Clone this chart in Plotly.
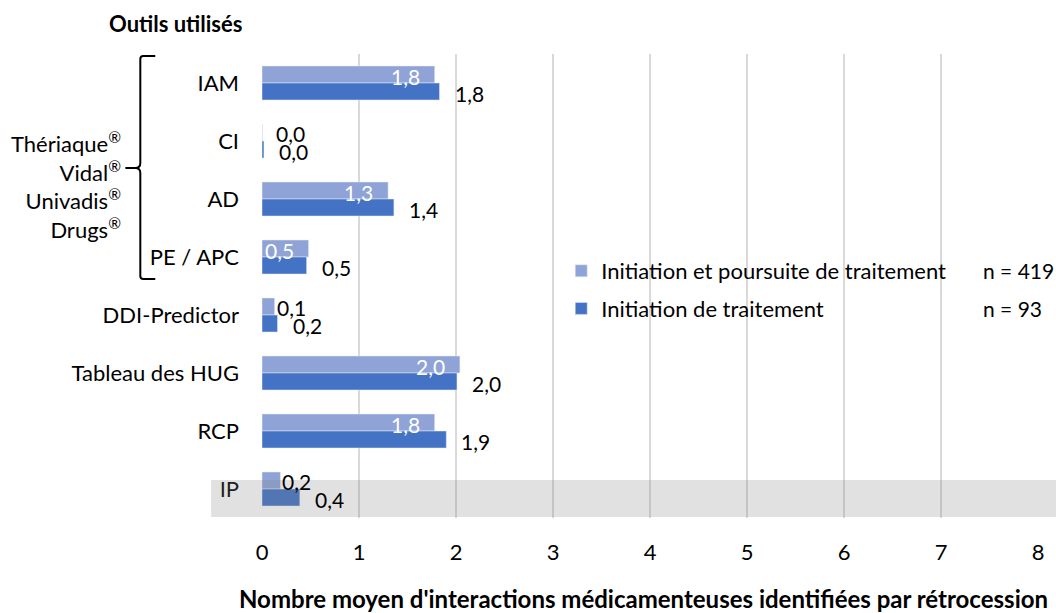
import plotly.graph_objects as go

# ---------------- data ----------------
categories = ["IAM", "CI", "AD", "PE / APC", "DDI-Predictor", "Tableau des HUG", "RCP", "IP"]
init_poursuite = [1.78, 0.004, 1.30, 0.48, 0.13, 2.04, 1.78, 0.19]
init_only = [1.83, 0.02, 1.36, 0.46, 0.16, 2.01, 1.90, 0.39]
series_names = ["Initiation et poursuite de traitement", "Initiation de traitement"]
series_n = ["n = 419", "n = 93"]
x_ticks = [0, 1, 2, 3, 4, 5, 6, 7, 8]
brands = ["Thériaque", "Vidal", "Univadis", "Drugs"]
y_title = "Outils utilisés"
x_title = "Nombre moyen d'interactions médicamenteuses identifiées par rétrocession"

# ---------------- style ----------------
W, H = 1056, 613
ML, MR, MT, MB = 262, 16, 54, 95
PW, PH = W - ML - MR, H - MT - MB
FONT = "Lato"
LIGHT = "#8FA3D6"
DARK = "#4472C4"
FS = 22
LFS = 21


def px(x):
    return (x - ML) / PW


def py(y):
    return (H - MB - y) / PH


def fmt(v):
    return f"{v:.1f}".replace(".", ",")


fig = go.Figure()
fig.add_trace(go.Bar(y=categories, x=init_poursuite, orientation="h", name=series_names[0],
                     marker=dict(color=LIGHT), legendgroup="a", hoverinfo="x+y"))
fig.add_trace(go.Bar(y=categories, x=init_only, orientation="h", name=series_names[1],
                     marker=dict(color=DARK), legendgroup="b", hoverinfo="x+y"))

ann = []
for c, v in zip(categories, init_poursuite):
    if v >= 0.4:
        ann.append(dict(x=v, y=c, xref="x", yref="y", text=fmt(v), showarrow=False,
                        xanchor="right", yanchor="middle", xshift=-13, yshift=7,
                        font=dict(family=FONT, size=LFS, color="white")))
    else:
        ann.append(dict(x=v, y=c, xref="x", yref="y", text=fmt(v), showarrow=False,
                        xanchor="left", yanchor="middle", xshift=0 if v > 0.05 else 12, yshift=7.5,
                        font=dict(family=FONT, size=LFS, color="black")))
for c, v in zip(categories, init_only):
    ann.append(dict(x=v, y=c, xref="x", yref="y", text=fmt(v), showarrow=False,
                    xanchor="left", yanchor="middle", xshift=13, yshift=-10,
                    font=dict(family=FONT, size=LFS, color="black")))

# n annotations next to legend
for i, t in enumerate(series_n):
    ann.append(dict(x=px(983), y=py(270 + 38 * i), xref="paper", yref="paper", text=t,
                    showarrow=False, xanchor="left", yanchor="middle",
                    font=dict(family=FONT, size=21, color="black")))

# titles
ann.append(dict(x=px(175), y=py(24), xref="paper", yref="paper", text="<b>" + y_title + "</b>",
                showarrow=False, xanchor="center", yanchor="middle",
                font=dict(family=FONT, size=22, color="black")))
ann.append(dict(x=px(644), y=py(598), xref="paper", yref="paper", text="<b>" + x_title + "</b>",
                showarrow=False, xanchor="center", yanchor="middle",
                font=dict(family=FONT, size=24, color="black")))
# bracket brand names
ann.append(dict(x=px(123), y=py(186), xref="paper", yref="paper",
                text="<br>".join(b + "<sup>®</sup>" for b in brands),
                showarrow=False, xanchor="right", yanchor="middle", align="right",
                font=dict(family=FONT, size=FS, color="black")))


def pt(x, y):
    return f"{px(x):.5f},{py(y):.5f}"


brace = (f"M {pt(155, 56)} L {pt(143, 56)} Q {pt(140, 56)} {pt(140, 59)} "
         f"L {pt(140, 163)} Q {pt(140, 168)} {pt(135, 168)} L {pt(125, 168)} "
         f"M {pt(135, 168)} Q {pt(140, 168)} {pt(140, 173)} "
         f"L {pt(140, 276)} Q {pt(140, 279)} {pt(143, 279)} L {pt(155, 279)}")

shapes = [
    dict(type="path", path=brace, xref="paper", yref="paper",
         line=dict(color="black", width=2)),
    dict(type="rect", xref="paper", yref="paper", x0=px(211), x1=px(1060), y0=py(517), y1=py(480),
         fillcolor="rgba(128,128,128,0.24)", line=dict(width=0), layer="above"),
]

fig.update_layout(
    width=W, height=H,
    margin=dict(l=ML, r=MR, t=MT, b=MB, pad=0),
    paper_bgcolor="white", plot_bgcolor="white",
    barmode="group", bargap=0.414, bargroupgap=0,
    font=dict(family=FONT, size=FS, color="black"),
    showlegend=True,
    legend=dict(x=px(562), y=py(250), xanchor="left", yanchor="top",
                font=dict(family=FONT, size=FS), tracegroupgap=6,
                bgcolor="rgba(0,0,0,0)", itemclick=False),
    xaxis=dict(range=[0, 8], tickvals=x_ticks, ticktext=[str(t) for t in x_ticks],
               showgrid=True, gridcolor="#D9D9D9", gridwidth=2, zeroline=False,
               showline=False, ticks="", ticklabelstandoff=19, fixedrange=True),
    yaxis=dict(autorange="reversed", showgrid=False, zeroline=False, showline=False,
               ticks="", ticklabelstandoff=22, fixedrange=True),
    annotations=ann,
    shapes=shapes,
)

fig.write_html("out.html", config={"displayModeBar": False},
               post_script="document.body.style.margin='0';")
